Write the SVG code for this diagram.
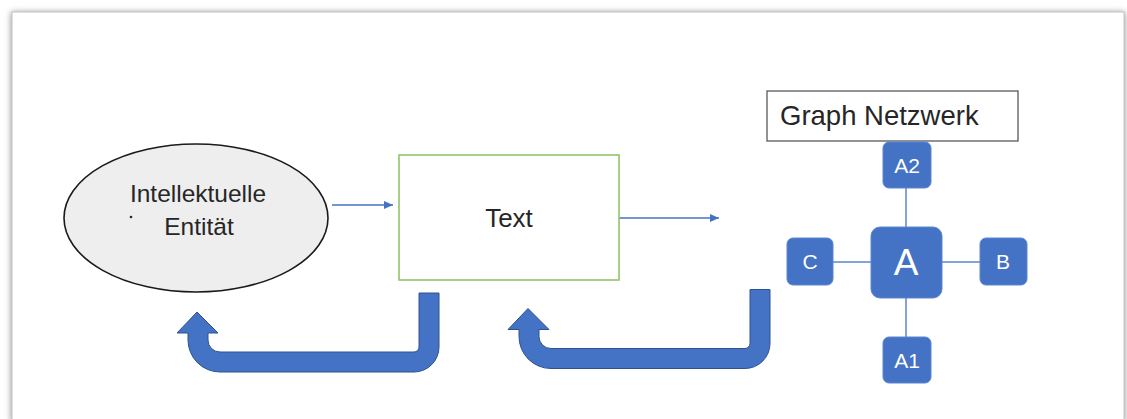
<svg xmlns="http://www.w3.org/2000/svg" width="1127" height="419" viewBox="0 0 1127 419">
<defs>
<style>
.lbl{font-family:"Liberation Sans",Arial,sans-serif;fill:#262626;text-anchor:middle}
.nd{fill:#4472C4;stroke:#5B87D0;stroke-width:1}
.nt{font-family:"Liberation Sans",Arial,sans-serif;fill:#ffffff;text-anchor:middle}
.edge{stroke:#5A86C6;stroke-width:1.5;fill:none}
.flow{stroke:#4472C4;stroke-width:1.3;fill:none;marker-end:url(#ah)}
.uarrow{fill:#4472C4;stroke:#2F528F;stroke-width:1}
</style>
<marker id="ah" markerWidth="10" markerHeight="8" refX="9" refY="4" orient="auto" markerUnits="userSpaceOnUse">
<path d="M0,0 L9,4 L0,8 Z" fill="#4472C4"/>
</marker>
<filter id="sh" x="-5%" y="-5%" width="110%" height="110%">
<feGaussianBlur stdDeviation="3"/>
</filter>
<path id="u" d="M197 312 L218 333 L208 333 L208 340 A12 12 0 0 0 220 352 L414 352 A5 5 0 0 0 419 347 L419 293 L439 293 L439 347 A25 25 0 0 1 414 372 L220 372 A32 32 0 0 1 188 340 L188 333 L177 333 Z"/>
</defs>
<rect x="0" y="0" width="1127" height="419" fill="#ffffff"/>
<rect x="11" y="12" width="1114" height="410" fill="#9a9a9a" filter="url(#sh)"/>
<rect x="12" y="12" width="1112" height="410" fill="#ffffff" stroke="#c4c4c4" stroke-width="1"/>

<g id="connectors">
<line class="flow" x1="332" y1="205" x2="393" y2="205"/>
<line class="flow" x1="619" y1="218" x2="719" y2="218"/>
<line class="edge" x1="906" y1="188" x2="906" y2="227"/>
<line class="edge" x1="906" y1="298" x2="906" y2="337"/>
<line class="edge" x1="833" y1="262" x2="871" y2="262"/>
<line class="edge" x1="942" y1="262" x2="980" y2="262"/>
<use href="#u" class="uarrow"/>
<use href="#u" class="uarrow" transform="translate(331,-3.5)"/>
</g>

<g id="entity">
<ellipse cx="196" cy="218" rx="132" ry="74" fill="#eeeeee" stroke="#1a1a1a" stroke-width="1.6"/>
<text class="lbl" x="198" y="202" font-size="24.5">Intellektuelle</text>
<text class="lbl" x="199" y="235" font-size="24.5">Entität</text>
<circle cx="131" cy="217" r="1.3" fill="#262626"/>
</g>

<g id="text">
<rect x="399" y="155" width="220" height="125" fill="#ffffff" stroke="#92C46B" stroke-width="1.6"/>
<text class="lbl" x="509" y="227" font-size="26">Text</text>
</g>

<g id="graph-title">
<rect x="767" y="91" width="251" height="50" fill="#ffffff" stroke="#595959" stroke-width="1.3"/>
<text class="lbl" x="780" y="125" font-size="27.5" text-anchor="start" style="text-anchor:start">Graph Netzwerk</text>
</g>

<g id="node-A2">
<rect class="nd" x="883" y="142" width="48" height="46" rx="6"/>
<text class="nt" x="907" y="173" font-size="21">A2</text>
</g>
<g id="node-A">
<rect class="nd" x="871" y="227" width="71" height="71" rx="9"/>
<text class="nt" x="906" y="275" font-size="37">A</text>
</g>
<g id="node-C">
<rect class="nd" x="787" y="238" width="46" height="47" rx="6"/>
<text class="nt" x="810" y="269" font-size="21">C</text>
</g>
<g id="node-B">
<rect class="nd" x="980" y="238" width="47" height="47" rx="6"/>
<text class="nt" x="1003" y="269" font-size="21">B</text>
</g>
<g id="node-A1">
<rect class="nd" x="883" y="337" width="48" height="46" rx="6"/>
<text class="nt" x="907" y="368" font-size="21">A1</text>
</g>
</svg>
